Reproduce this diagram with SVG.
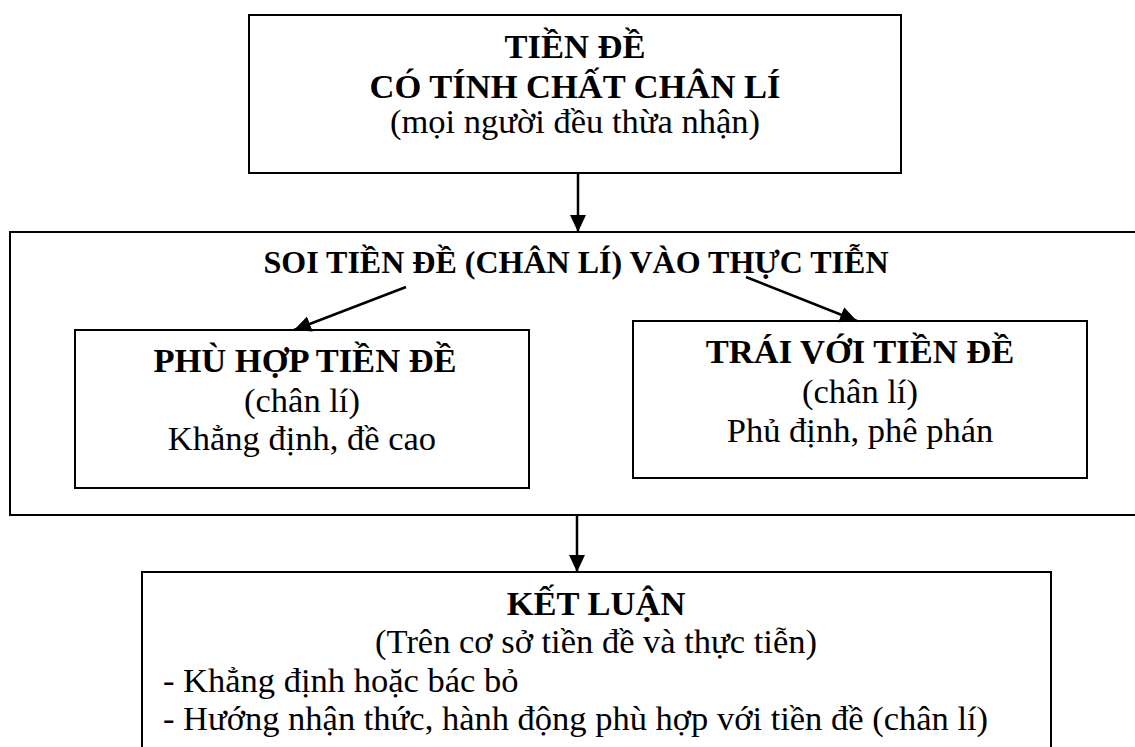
<svg xmlns="http://www.w3.org/2000/svg" width="1135" height="747" viewBox="0 0 1135 747">
<style>
.box{fill:none;stroke:#000;stroke-width:2}
.t{font-family:"Liberation Serif","Times New Roman",serif;font-size:34.5px;fill:#000}
.b{font-weight:bold}
.c{text-anchor:middle}
.s{font-size:32px}
.arr{stroke:#000;stroke-width:2.5;fill:none;marker-end:url(#ah)}
</style>
<defs>
<marker id="ah" markerUnits="userSpaceOnUse" markerWidth="18" markerHeight="18" viewBox="0 0 18 18" refX="17" refY="9" orient="auto">
<path d="M0,1 L17,9 L0,17 Z" fill="#000"/>
</marker>
</defs>
<rect width="1135" height="747" fill="#fff"/>
<g id="connectors">
<line class="arr" x1="578" y1="173" x2="578" y2="232"/>
<line class="arr" x1="406" y1="287" x2="294" y2="330"/>
<line class="arr" x1="746" y1="277" x2="857" y2="321"/>
<line class="arr" x1="577" y1="515" x2="577" y2="572"/>
</g>
<g id="tien-de">
<rect class="box" x="249" y="15" width="652" height="158"/>
<text class="t b c" x="575" y="58">TIỀN ĐỀ</text>
<text class="t b c" x="575" y="98">CÓ TÍNH CHẤT CHÂN LÍ</text>
<text class="t c" x="575" y="133">(mọi người đều thừa nhận)</text>
</g>
<g id="soi-tien-de">
<rect class="box" x="10" y="232" width="1140" height="283"/>
<text class="t b c s" x="576" y="273">SOI TIỀN ĐỀ (CHÂN LÍ) VÀO THỰC TIỄN</text>
</g>
<g id="phu-hop">
<rect class="box" x="75" y="330" width="454" height="158"/>
<text class="t b c" x="305" y="372">PHÙ HỢP TIỀN ĐỀ</text>
<text class="t c" x="302" y="412">(chân lí)</text>
<text class="t c" x="302" y="450">Khẳng định, đề cao</text>
</g>
<g id="trai-voi">
<rect class="box" x="633" y="321" width="454" height="157"/>
<text class="t b c" x="860" y="363">TRÁI VỚI TIỀN ĐỀ</text>
<text class="t c" x="860" y="403">(chân lí)</text>
<text class="t c" x="860" y="442">Phủ định, phê phán</text>
</g>
<g id="ket-luan">
<rect class="box" x="142" y="572" width="909" height="200"/>
<text class="t b c" x="596" y="615">KẾT LUẬN</text>
<text class="t c" x="596" y="653">(Trên cơ sở tiền đề và thực tiễn)</text>
<text class="t" x="163" y="692">- Khẳng định hoặc bác bỏ</text>
<text class="t" x="163" y="730">- Hướng nhận thức, hành động phù hợp với tiền đề (chân lí)</text>
</g>
</svg>
